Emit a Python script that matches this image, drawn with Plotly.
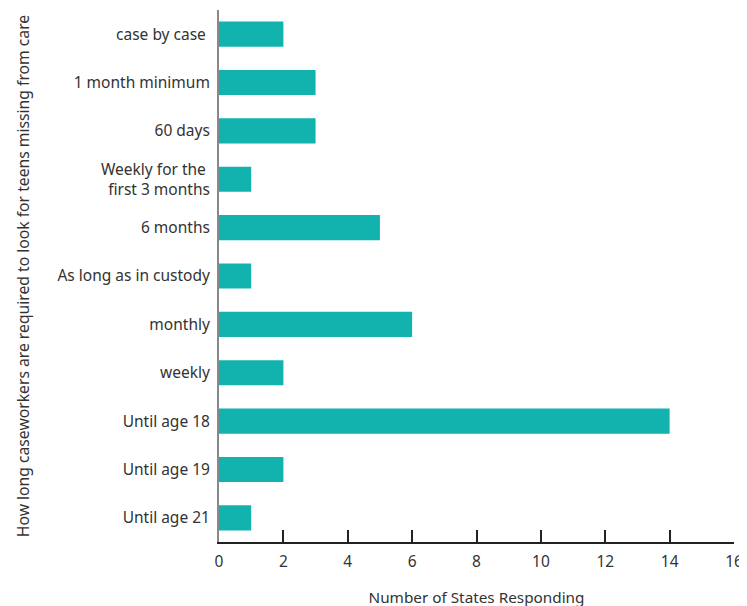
import plotly.graph_objects as go

categories = [
    "case by case ",
    "1 month minimum",
    "60 days",
    "Weekly for the <br>first 3 months",
    "6 months",
    "As long as in custody",
    "monthly",
    "weekly",
    "Until age 18",
    "Until age 19",
    "Until age 21",
]
values = [2, 3, 3, 1, 5, 1, 6, 2, 14, 2, 1]
x_ticks = [0, 2, 4, 6, 8, 10, 12, 14, 16]

FONT = "Noto Sans, Open Sans, sans-serif"

fig = go.Figure(
    go.Bar(
        y=categories,
        x=values,
        orientation="h",
        marker=dict(color="#12b3ae", line=dict(width=0)),
        hoverinfo="x+y",
    )
)

fig.update_layout(
    width=747,
    height=606,
    margin=dict(l=211, r=21, t=2, b=72),
    plot_bgcolor="white",
    paper_bgcolor="white",
    font=dict(family=FONT, size=15, color="#333333"),
    bargap=0.48,
    showlegend=False,
)

fig.update_xaxes(
    automargin=False,
    range=[0, 16],
    tickvals=x_ticks,
    ticktext=[str(v) for v in x_ticks],
    showgrid=False,
    zeroline=False,
    showline=True,
    linecolor="#222222",
    linewidth=2,
    ticks="inside",
    ticklen=12,
    tickwidth=2,
    tickcolor="#222222",
    ticklabelstandoff=4,
    tickfont=dict(size=15.5, color="#333333"),
    title=dict(text="Number of States Responding", font=dict(size=15.3, color="#333333"), standoff=22),
)

fig.update_yaxes(
    automargin=False,
    categoryorder="array",
    categoryarray=categories[::-1],
    range=[-0.5, 10.5],
    showgrid=False,
    zeroline=False,
    showline=True,
    linecolor="#888888",
    linewidth=2,
    ticks="",
    ticklabelstandoff=4,
    tickfont=dict(size=15.5, color="#333333"),
    title=dict(
        text="How long caseworkers are required to look for teens missing from care",
        font=dict(size=15.7, color="#333333"),
        standoff=24,
    ),
)

fig.write_html("out.html")
